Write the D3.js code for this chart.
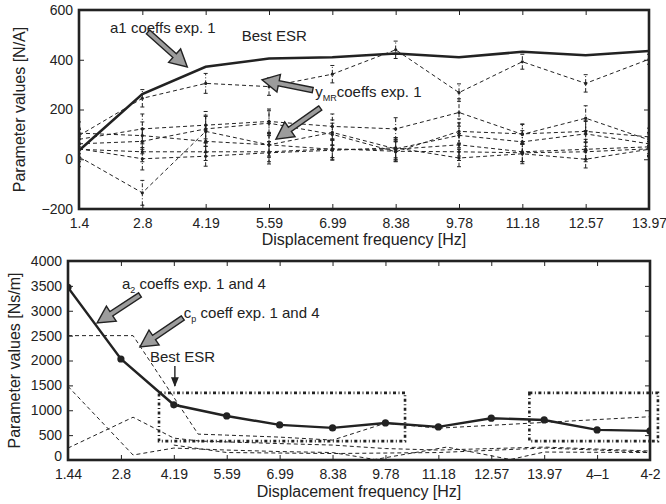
<!DOCTYPE html>
<html lang="en">
<head>
    <meta charset="UTF-8">
    <title>Parameter values vs displacement frequency</title>
    <script src="https://d3js.org/d3.v7.min.js"></script>
    <style>
        body { margin: 0; background: #fff; }
        svg { font-family: "Liberation Sans", Arial, sans-serif; }
        .tick text { font-size: 14px; fill: #222; }
        .tick line { stroke: #222; }
        .domain { display: none; }
        .axis-title { font-size: 16px; fill: #222; }
        .note { font-size: 15px; fill: #222; }
    </style>
</head>
<body>
<div id="chart"></div>
<script>
    // ---- top panel: a1 and y_MR coefficients ----
    const topLabels = ["1.4", "2.8", "4.19", "5.59", "6.99", "8.38", "9.78", "11.18", "12.57", "13.97"];
    const topTicksY = [-200, 0, 200, 400, 600];
    const a1Best = [35, 262, 372, 405, 410, 425, 410, 432, 418, 435];
    const yMR1 = [95, 245, 305, 292, 342, 440, 268, 392, 305, 402];
    const yMR2 = [80, 122, 137, 152, 132, 122, 188, 100, 165, 78];
    const yMR3 = [10, -135, 112, 58, 108, 42, 96, 70, 102, 62];
    const yMR4 = [105, 95, 72, 58, 40, 40, 58, 30, 40, 50];
    const yMR5 = [40, 30, 30, 30, 42, 32, 30, 26, 30, 42];
    const yMR6 = [42, 2, 12, 26, 36, 46, 5, 22, 0, 40];
    const yMR7 = [62, 72, 122, 145, 100, 30, 112, 102, 112, 90];
    const err1 = [30, 35, 40, 35, 35, 35, 35, 30, 35, 20];
    const err2 = [40, 60, 55, 50, 50, 45, 55, 40, 50, 30];
    const err3 = [40, 50, 60, 50, 50, 45, 50, 45, 50, 40];
    const err4 = [45, 55, 45, 45, 40, 40, 45, 40, 40, 35];
    const err5 = [50, 40, 35, 40, 35, 40, 35, 35, 40, 30];
    const err6 = [40, 45, 40, 45, 40, 40, 35, 40, 35, 30];
    const err7 = [40, 50, 55, 50, 45, 40, 50, 40, 45, 35];

    // ---- bottom panel: a2 and cp coefficients ----
    const botLabels = ["1.44", "2.8", "4.19", "5.59", "6.99", "8.38", "9.78", "11.18", "12.57", "13.97", "4\u20131", "4-2"];
    const botTicksY = [0, 500, 1000, 1500, 2000, 2500, 3000, 3500, 4000];
    const a2Best = [3470, 2030, 1110, 885, 705, 645, 745, 665, 840, 805, 605, 585];
    const cpX = [0, 1.23, 2.46, 3, 4, 5, 6, 7, 11];
    const cpY = [2500, 2500, 520, 500, 460, 400, 740, 640, 870];
    const d2X = [0, 1.23, 2, 3, 4, 5, 5.8, 7.16, 8.36, 9, 11];
    const d2Y = [1480, 100, 240, 200, 170, 150, 10, 260, 10, 160, 150];
    const d3X = [0, 1.23, 2, 2.5, 4, 5, 6, 7, 8, 9, 11];
    const d3Y = [240, 860, 440, 380, 330, 300, 230, 200, 230, 260, 180];
    const d4X = [2, 3, 5, 7, 9, 11];
    const d4Y = [300, 150, 130, 150, 240, 160];
    const boxX0 = [1.72, 8.72];
    const boxX1 = [6.37, 11.15];
    const boxLo = [380, 380];
    const boxHi = [1350, 1350];

    const W = 666, H = 504;
    const ink = "#222";
    const svg = d3.select("#chart").append("svg").attr("width", W).attr("height", H);

    function panel(box, labels, yDomain, yTicks, yTitle, xTitle, xTitleY, yTitleX, id) {
        const x = d3.scaleLinear().domain([0, labels.length - 1]).range([box.l, box.r]);
        const y = d3.scaleLinear().domain(yDomain).range([box.b, box.t]);
        const idx = d3.range(labels.length);

        svg.append("clipPath").attr("id", id)
            .append("rect").attr("x", box.l).attr("y", box.t)
            .attr("width", box.r - box.l).attr("height", box.b - box.t);

        svg.append("g").attr("transform", `translate(0,${box.b})`)
            .call(d3.axisBottom(x).tickValues(idx).tickFormat(i => labels[i]).tickSize(-5).tickPadding(9));
        svg.append("g").attr("transform", `translate(0,${box.t})`)
            .call(d3.axisTop(x).tickValues(idx).tickFormat("").tickSize(-5));
        const yAxis = svg.append("g").attr("transform", `translate(${box.l},0)`)
            .call(d3.axisLeft(y).tickValues(yTicks).tickFormat(d => d < 0 ? "\u2212" + (-d) : d).tickSize(-5).tickPadding(6));
        svg.append("g").attr("transform", `translate(${box.r},0)`)
            .call(d3.axisRight(y).tickValues(yTicks).tickFormat("").tickSize(-5));

        svg.append("text").attr("class", "axis-title")
            .attr("x", (box.l + box.r) / 2).attr("y", xTitleY)
            .attr("text-anchor", "middle").text(xTitle);
        svg.append("text").attr("class", "axis-title")
            .attr("transform", `translate(${yTitleX},${(box.t + box.b) / 2}) rotate(-90)`)
            .attr("text-anchor", "middle").text(yTitle);

        const plot = svg.append("g").attr("clip-path", `url(#${id})`);
        return { x, y, plot, box, yAxis };
    }

    function frame(p) {
        svg.append("rect").attr("x", p.box.l).attr("y", p.box.t)
            .attr("width", p.box.r - p.box.l).attr("height", p.box.b - p.box.t)
            .attr("fill", "none").attr("stroke", ink).attr("stroke-width", 2.6);
    }

    function bigArrow(g, x1, y1, x2, y2) {
        const dx = x2 - x1, dy = y2 - y1, len = Math.hypot(dx, dy);
        const ux = dx / len, uy = dy / len, nx = -uy, ny = ux;
        const hl = 17, hw = 9, sw = 2.6;
        const bx = x2 - ux * hl, by = y2 - uy * hl;
        const pts = [
            [x1 + nx * sw, y1 + ny * sw], [bx + nx * sw, by + ny * sw], [bx + nx * hw, by + ny * hw],
            [x2, y2], [bx - nx * hw, by - ny * hw], [bx - nx * sw, by - ny * sw], [x1 - nx * sw, y1 - ny * sw]
        ];
        g.append("polygon").attr("points", pts.map(p => p.join(",")).join(" "))
            .attr("fill", "#9c9c9c").attr("stroke", ink).attr("stroke-width", 1.4)
            .attr("stroke-linejoin", "miter");
    }

    function note(g, x, y, main, sub, rest) {
        const t = g.append("text").attr("class", "note").attr("x", x).attr("y", y);
        t.append("tspan").text(main);
        if (sub) {
            t.append("tspan").attr("font-size", 9).attr("dy", 4).text(sub);
            t.append("tspan").attr("dy", -4).text(rest);
        }
    }

    // ================= TOP =================
    const T = panel({ l: 79, r: 649, t: 10, b: 209 }, topLabels, [-200, 600], topTicksY,
        "Parameter values [N/A]", "Displacement frequency [Hz]", 245, 25, "clipT");

    const series = [[yMR1, err1], [yMR2, err2], [yMR3, err3], [yMR4, err4], [yMR5, err5], [yMR6, err6], [yMR7, err7]];
    const lineT = d3.line().x((d, i) => T.x(i)).y(d => T.y(d));
    series.forEach(([vals, errs]) => {
        T.plot.append("path").attr("d", lineT(vals))
            .attr("fill", "none").attr("stroke", ink).attr("stroke-width", 1)
            .attr("stroke-dasharray", "4,3");
        vals.forEach((v, i) => {
            const cx = T.x(i);
            T.plot.append("line").attr("x1", cx).attr("x2", cx)
                .attr("y1", T.y(v - errs[i])).attr("y2", T.y(v + errs[i]))
                .attr("stroke", ink).attr("stroke-width", 1).attr("stroke-dasharray", "4,2,1,2");
            [v - errs[i], v + errs[i]].forEach(e => {
                T.plot.append("line").attr("x1", cx - 2).attr("x2", cx + 2)
                    .attr("y1", T.y(e)).attr("y2", T.y(e)).attr("stroke", ink).attr("stroke-width", 1);
            });
            T.plot.append("circle").attr("cx", cx).attr("cy", T.y(v)).attr("r", 1.6).attr("fill", ink);
        });
    });
    T.plot.append("path").attr("d", lineT(a1Best))
        .attr("fill", "none").attr("stroke", ink).attr("stroke-width", 2.6);
    frame(T);

    const gT = svg.append("g");
    note(gT, T.x(0.49), T.y(508), "a1 coeffs exp. 1");
    note(gT, T.x(2.57), T.y(475), "Best ESR");
    note(gT, T.x(3.73), T.y(250), "y", "MR", "coeffs exp. 1");
    bigArrow(gT, T.x(1.09), T.y(512), T.x(1.71), T.y(371));
    bigArrow(gT, T.x(3.69), T.y(278), T.x(2.89), T.y(319));
    bigArrow(gT, T.x(3.81), T.y(206), T.x(3.11), T.y(81));

    // ================= BOTTOM =================
    const B = panel({ l: 68, r: 650, t: 261, b: 460 }, botLabels, [0, 4000], botTicksY,
        "Parameter values  [Ns/m]", "Displacement frequency  [Hz]", 497, 20, "clipB");
    // the "0" label sits just above the first x label, as in the original
    B.yAxis.selectAll(".tick text").filter(d => d === 0).attr("y", -4);

    const lineB = d3.line().x(d => B.x(d[0])).y(d => B.y(d[1]));
    [[cpX, cpY], [d2X, d2Y], [d3X, d3Y], [d4X, d4Y]].forEach(([xs, ys]) => {
        B.plot.append("path").attr("d", lineB(xs.map((v, i) => [v, ys[i]])))
            .attr("fill", "none").attr("stroke", ink).attr("stroke-width", 1)
            .attr("stroke-dasharray", "4,3");
    });

    const gB = svg.append("g");
    boxX0.forEach((x0, i) => {
        gB.append("rect").attr("x", B.x(x0)).attr("y", B.y(boxHi[i]))
            .attr("width", B.x(boxX1[i]) - B.x(x0)).attr("height", B.y(boxLo[i]) - B.y(boxHi[i]))
            .attr("fill", "none").attr("stroke", ink).attr("stroke-width", 2.6)
            .attr("stroke-dasharray", "3,2.5,1,2.5");
    });

    B.plot.append("path").attr("d", lineB(a2Best.map((v, i) => [i, v])))
        .attr("fill", "none").attr("stroke", ink).attr("stroke-width", 2.4);
    B.plot.selectAll(".dot").data(a2Best).enter().append("circle")
        .attr("cx", (d, i) => B.x(i)).attr("cy", d => B.y(d)).attr("r", 3.6).attr("fill", ink);
    frame(B);

    note(gB, B.x(1.02), B.y(3437), "a", "2", "   coeffs exp. 1 and 4");
    note(gB, B.x(2.19), B.y(2854), "c", "p", "  coeff exp. 1 and 4");
    note(gB, B.x(1.55), B.y(1970), "Best ESR");
    bigArrow(gB, B.x(1.36), B.y(3317), B.x(0.55), B.y(2754));
    bigArrow(gB, B.x(2.17), B.y(2854), B.x(1.36), B.y(2271));

    svg.append("defs").append("marker").attr("id", "head")
        .attr("viewBox", "0 0 10 10").attr("refX", 9).attr("refY", 5)
        .attr("markerWidth", 7).attr("markerHeight", 7).attr("orient", "auto")
        .append("path").attr("d", "M0,1 L10,5 L0,9 Z").attr("fill", ink);
    gB.append("line").attr("x1", B.x(2.02)).attr("x2", B.x(2.02))
        .attr("y1", B.y(1890)).attr("y2", B.y(1487))
        .attr("stroke", ink).attr("stroke-width", 1.4).attr("marker-end", "url(#head)");
</script>
</body>
</html>
